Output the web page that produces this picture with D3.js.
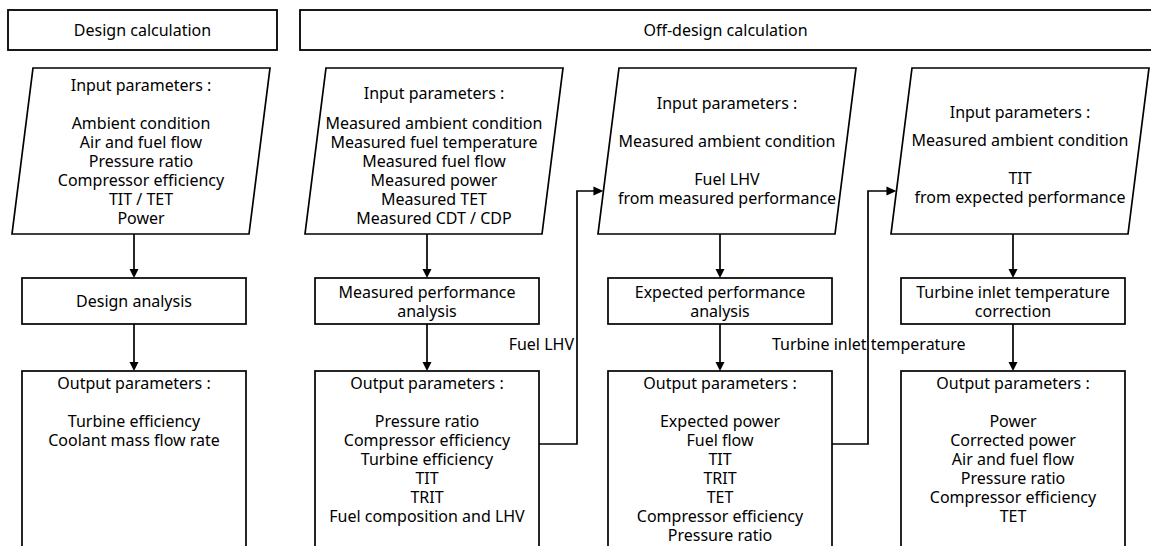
<!DOCTYPE html>
<html>
<head>
<meta charset="utf-8">
<script src="https://cdn.jsdelivr.net/npm/d3@7"></script>
<style>
  body { margin: 0; background: #fff; }
  text { font-family: "Noto Sans", "Open Sans", sans-serif; font-size: 16px; fill: #000; }
</style>
</head>
<body>
<div id="chart"></div>
<script>
var width = 1151,
    height = 546;

// chart content
var sections = ["Design calculation", "Off-design calculation"];

var inputHeaders = ["Input parameters :", "Input parameters :", "Input parameters :", "Input parameters :"];
var inputLines = [
    ["Ambient condition", "Air and fuel flow", "Pressure ratio", "Compressor efficiency", "TIT / TET", "Power"],
    ["Measured ambient condition", "Measured fuel temperature", "Measured fuel flow", "Measured power", "Measured TET", "Measured CDT / CDP"],
    ["Measured ambient condition", "", "Fuel LHV", "from measured performance"],
    ["Measured ambient condition", "", "TIT", "from expected performance"]
];

var analysisLabels = [
    ["Design analysis"],
    ["Measured performance", "analysis"],
    ["Expected performance", "analysis"],
    ["Turbine inlet temperature", "correction"]
];

var outputHeaders = ["Output parameters :", "Output parameters :", "Output parameters :", "Output parameters :"];
var outputLines = [
    ["Turbine efficiency", "Coolant mass flow rate"],
    ["Pressure ratio", "Compressor efficiency", "Turbine efficiency", "TIT", "TRIT", "Fuel composition and LHV"],
    ["Expected power", "Fuel flow", "TIT", "TRIT", "TET", "Compressor efficiency", "Pressure ratio"],
    ["Power", "Corrected power", "Air and fuel flow", "Pressure ratio", "Compressor efficiency", "TET"]
];

var linkLabels = ["Fuel LHV", "Turbine inlet temperature"];

// layout
var x = d3.scaleLinear().domain([0, 3]).range([22, 901]);
var boxW = 224,
    lineH = 19,
    slant = 21,
    paraW = 237,
    paraTop = 68,
    paraBottom = 234,
    anaTop = 278,
    anaBottom = 324,
    outTop = 371,
    sw = 1.7;
var sectionBoxes = [[8, 277], [300, 1160]];
var inputHeaderY = [85, 93, 103, 112];
var inputBodyY = [123, 123, 141, 140];
var linkX = [577, 868];
var linkY = 444,
    linkTopY = 191,
    linkLabelY = 344;

var svg = d3.select("#chart").append("svg")
    .attr("width", width)
    .attr("height", height);

function cx(i) { return x(i) + boxW / 2; }

function arrowDown(xp, y0, y1) {
    svg.append("line")
        .attr("x1", xp).attr("x2", xp)
        .attr("y1", y0).attr("y2", y1 - 8)
        .attr("stroke", "#000").attr("stroke-width", sw);
    svg.append("path")
        .attr("d", "M" + (xp - 4.5) + "," + (y1 - 9) + "L" + (xp + 4.5) + "," + (y1 - 9) + "L" + xp + "," + y1 + "Z")
        .attr("fill", "#000");
}

// section headers
sections.forEach(function (s, i) {
    var b = sectionBoxes[i];
    svg.append("rect")
        .attr("x", b[0]).attr("y", 10)
        .attr("width", b[1] - b[0]).attr("height", 40)
        .attr("fill", "none").attr("stroke", "#000").attr("stroke-width", 1.8);
    var tx = i === 0 ? (b[0] + b[1]) / 2 : (b[0] + width) / 2;
    svg.append("text")
        .attr("x", tx).attr("y", 30)
        .attr("text-anchor", "middle")
        .attr("dominant-baseline", "central")
        .text(s);
});

// input parallelograms
inputLines.forEach(function (lines, i) {
    var bl = x(i) - 10;
    var pts = [[bl + slant, paraTop], [bl + slant + paraW, paraTop], [bl + paraW, paraBottom], [bl, paraBottom]];
    svg.append("path")
        .attr("d", d3.line()(pts) + "Z")
        .attr("fill", "#fff").attr("stroke", "#000").attr("stroke-width", sw);
    var mx = bl + (slant + paraW) / 2;
    svg.append("text")
        .attr("x", mx).attr("y", inputHeaderY[i])
        .attr("text-anchor", "middle").attr("dominant-baseline", "central")
        .text(inputHeaders[i]);
    svg.selectAll(null).data(lines).enter().append("text")
        .attr("x", mx)
        .attr("y", function (d, k) { return inputBodyY[i] + k * lineH; })
        .attr("text-anchor", "middle").attr("dominant-baseline", "central")
        .text(function (d) { return d; });

    arrowDown(cx(i), paraBottom, anaTop);
});

// analysis boxes
analysisLabels.forEach(function (lines, i) {
    svg.append("rect")
        .attr("x", x(i)).attr("y", anaTop)
        .attr("width", boxW).attr("height", anaBottom - anaTop)
        .attr("fill", "#fff").attr("stroke", "#000").attr("stroke-width", sw);
    var mid = (anaTop + anaBottom) / 2;
    var y0 = mid - (lines.length - 1) * lineH / 2;
    svg.selectAll(null).data(lines).enter().append("text")
        .attr("x", cx(i))
        .attr("y", function (d, k) { return y0 + k * lineH; })
        .attr("text-anchor", "middle").attr("dominant-baseline", "central")
        .text(function (d) { return d; });

    arrowDown(cx(i), anaBottom, outTop);
});

// output boxes
outputLines.forEach(function (lines, i) {
    svg.append("rect")
        .attr("x", x(i)).attr("y", outTop)
        .attr("width", boxW).attr("height", height - outTop + 20)
        .attr("fill", "#fff").attr("stroke", "#000").attr("stroke-width", sw);
    svg.append("text")
        .attr("x", cx(i)).attr("y", outTop + 12)
        .attr("text-anchor", "middle").attr("dominant-baseline", "central")
        .text(outputHeaders[i]);
    svg.selectAll(null).data(lines).enter().append("text")
        .attr("x", cx(i))
        .attr("y", function (d, k) { return outTop + 12 + (k + 2) * lineH; })
        .attr("text-anchor", "middle").attr("dominant-baseline", "central")
        .text(function (d) { return d; });
});

// feedback links: output of column i -> input of column i+1
linkLabels.forEach(function (label, j) {
    var i = j + 1;
    var x0 = x(i) + boxW,
        xv = linkX[j];
    var nbl = x(i + 1) - 10;
    var ya = linkTopY;
    // left edge of next parallelogram at ya
    var xt = nbl + slant * (paraBottom - ya) / (paraBottom - paraTop);
    svg.append("path")
        .attr("d", d3.line()([[x0, linkY], [xv, linkY], [xv, ya], [xt - 9, ya]]))
        .attr("fill", "none").attr("stroke", "#000").attr("stroke-width", sw);
    svg.append("path")
        .attr("d", "M" + (xt - 10) + "," + (ya - 4.5) + "L" + (xt - 10) + "," + (ya + 4.5) + "L" + xt + "," + ya + "Z")
        .attr("fill", "#000");
    var t = svg.append("text")
        .attr("y", linkLabelY)
        .attr("dominant-baseline", "central")
        .text(label);
    if (j === 0) {
        t.attr("x", xv - 3).attr("text-anchor", "end");
    } else {
        t.attr("x", xv - 96).attr("text-anchor", "start");
    }
});
</script>
</body>
</html>
